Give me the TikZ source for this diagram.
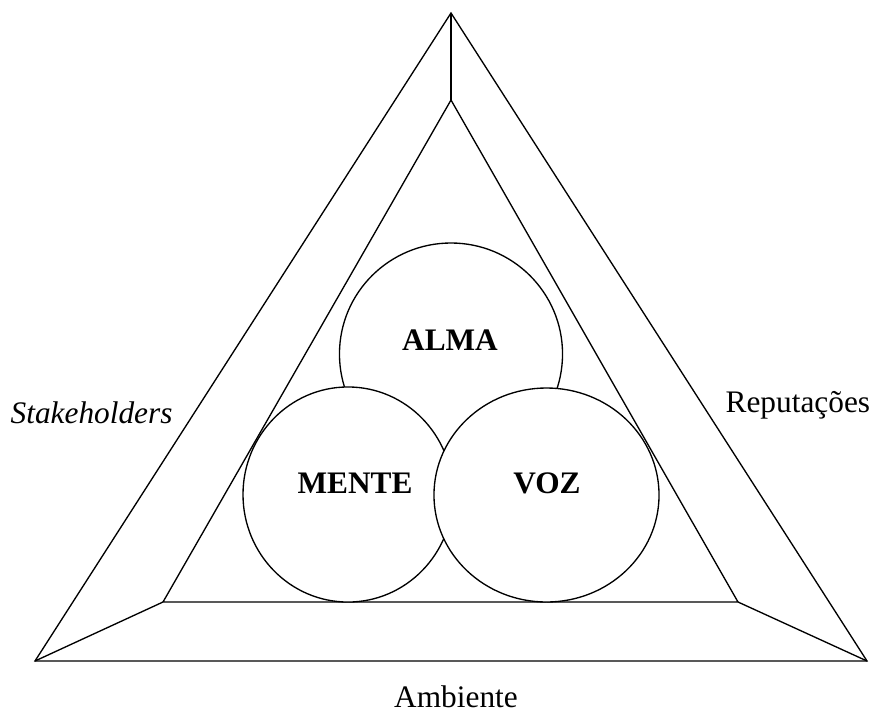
\documentclass[tikz,border=0pt]{standalone}
\usepackage{fontspec}
\setmainfont{Liberation Serif}
\usetikzlibrary{shapes.geometric}

\begin{document}
\begin{tikzpicture}[%
    x=0.75pt, y=-0.75pt,        % work in pixels of the sketch, y going down
    line width=1pt,
    ]
% -------------------------------------------------
% Styles for the rings and the words
\tikzset{
  ring/.style={draw, ellipse, fill=white, inner sep=0pt},
  word/.style={inner sep=0pt, font=\fontsize{23.5}{28}\selectfont},
  core/.style={word, anchor=base, font=\fontsize{23.5}{28}\selectfont\bfseries}
}
\useasboundingbox (0,0) rectangle (874,714);
% -------------------------------------------------
% Corners of the two triangles
\coordinate (ot) at (451,13);
\coordinate (ol) at (35,661);
\coordinate (or) at (867,661);
\coordinate (it) at (451,100);
\coordinate (il) at (163,602);
\coordinate (ir) at (738,602);

\draw (ot) -- (ol) -- (or) -- cycle;	%outer triangle
\draw (it) -- (il) -- (ir) -- cycle;	%inner triangle
\draw (ot) -- (it);		%top edge
\draw (ol) -- (il);		%left edge
\draw (or) -- (ir);		%right edge

% -------------------------------------------------
% The three rings, back to front (sizes in pt)
\node [ring, minimum width=167.3pt, minimum height=166.5pt] (a) at (451,354) {};
\node [ring, minimum width=157.5pt, minimum height=161.3pt] (m) at (348,494.5) {};
\node [ring, minimum width=168.8pt, minimum height=160.5pt] (v) at (546.5,495) {};

\node [core] (alma) at (450,350) {ALMA};
\node [core] (mente) at (355,493) {MENTE};
\node [core] (voz) at (547,493) {VOZ};

% -------------------------------------------------
% Words round the triangle
\node [word, anchor=base west] (s) at (10,423) {\itshape Stakeholders};
\node [word, anchor=base west] (r) at (725,412) {Reputações};
\node [word, anchor=base] (e) at (456,707) {Ambiente};

% -------------------------------------------------
\end{tikzpicture}
\end{document}
